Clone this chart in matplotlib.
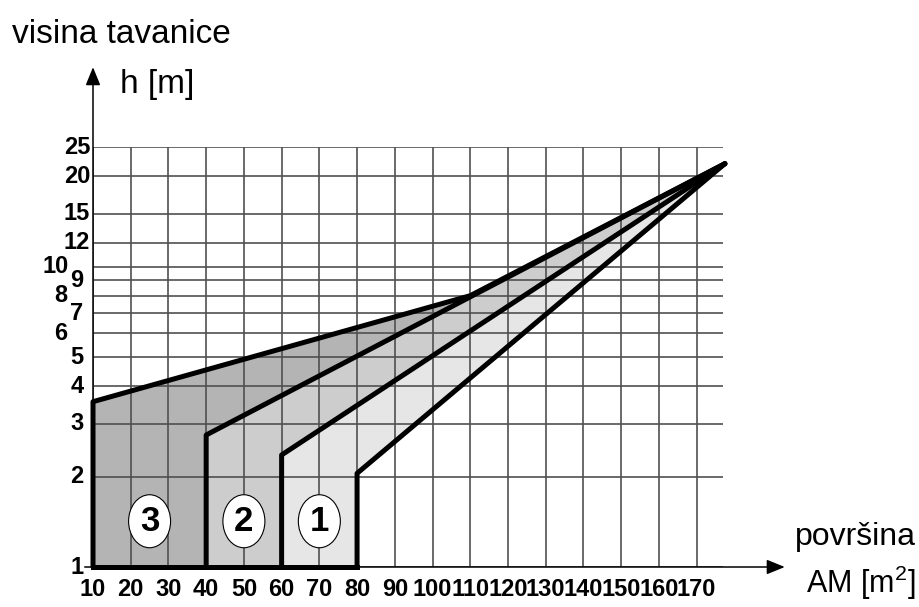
import matplotlib
matplotlib.use("Agg")
import matplotlib.pyplot as plt
from matplotlib.patches import Polygon, Ellipse
from matplotlib.transforms import ScaledTranslation, blended_transform_factory

# data
x_ticks = [10, 20, 30, 40, 50, 60, 70, 80, 90, 100, 110, 120, 130, 140, 150, 160, 170]
y_ticks = [1, 2, 3, 4, 5, 6, 7, 8, 9, 10, 12, 15, 20, 25]
zone_x = [10, 40, 60, 80]          # left edges of the zones
zone_h = [3.55, 2.75, 2.36, 2.05]  # height where the slanted line starts
knee = (110, 8.0)                  # where the top line joins zone 2 line
apex = (177.5, 22.0)
zone_names = ["3", "2", "1"]
zone_label_x = [25, 50, 70]
zone_label_y = 1.42
fills = ["#b4b4b4", "#cdcdcd", "#e6e6e6"]

plt.rcParams["font.family"] = ["Liberation Sans", "DejaVu Sans"]
plt.rcParams["mathtext.fontset"] = "custom"
plt.rcParams["mathtext.rm"] = "Liberation Sans"

fig = plt.figure(figsize=(9.2, 6.07), dpi=100)
ax = fig.add_axes([93 / 920, 1 - 567 / 607, 630 / 920, 420 / 607])
ax.set_yscale("log")
ax.set_xlim(10, 177)
ax.set_ylim(1, 25)
for s in ax.spines.values():
    s.set_visible(False)
ax.set_xticks([])
ax.set_yticks([])
ax.minorticks_off()

# grid
for xv in x_ticks:
    ax.plot([xv, xv], [1, 25], color="#505050", lw=1.2, zorder=2)
for yv in y_ticks:
    ax.plot([10, 177], [yv, yv], color="#505050", lw=1.2, zorder=2)

# zone fills
polys = [
    [(zone_x[0], 1), (zone_x[0], zone_h[0]), knee, (zone_x[1], zone_h[1]), (zone_x[1], 1)],
    [(zone_x[1], 1), (zone_x[1], zone_h[1]), apex, (zone_x[2], zone_h[2]), (zone_x[2], 1)],
    [(zone_x[2], 1), (zone_x[2], zone_h[2]), apex, (zone_x[3], zone_h[3]), (zone_x[3], 1)],
]
for p, c in zip(polys, fills):
    ax.add_patch(Polygon(p, closed=True, facecolor=c, edgecolor="none", zorder=1, clip_on=False))

# thick outlines
lw = 3.6
ax.plot([zone_x[0], zone_x[0], knee[0], apex[0]], [1, zone_h[0], knee[1], apex[1]],
        color="black", lw=lw, solid_joinstyle="round", solid_capstyle="round", zorder=4, clip_on=False)
for zx, zh in zip(zone_x[1:], zone_h[1:]):
    ax.plot([zx, zx, apex[0]], [1, zh, apex[1]], color="black", lw=lw,
            solid_joinstyle="round", solid_capstyle="round", zorder=4, clip_on=False)
ax.plot([zone_x[0], zone_x[3]], [1, 1], color="black", lw=lw, zorder=4, clip_on=False)

# zone labels in white ellipses
for name, xv in zip(zone_names, zone_label_x):
    tr = fig.dpi_scale_trans + ScaledTranslation(xv, zone_label_y, ax.transData)
    ax.add_patch(Ellipse((0, 0), 0.42, 0.53, transform=tr, facecolor="white",
                         edgecolor="black", lw=0.8, zorder=5))
    ax.text(xv, zone_label_y, name, ha="center", va="center", fontsize=25,
            fontweight="bold", zorder=6)

# axes arrows
ax.annotate("", xy=(0, 1.19), xytext=(0, 0), xycoords="axes fraction",
            arrowprops=dict(arrowstyle="-|>,head_length=1.1,head_width=0.45", color="black", lw=1.1,
                            shrinkA=0, shrinkB=0))
ax.annotate("", xy=(1.098, 0), xytext=(0, 0), xycoords="axes fraction",
            arrowprops=dict(arrowstyle="-|>,head_length=1.1,head_width=0.45", color="black", lw=1.1,
                            shrinkA=0, shrinkB=0))

# y tick labels
ytr = blended_transform_factory(ax.transAxes, ax.transData)
shift = {10: -26.6, 8: -23.0, 6: -23.0}
for yv in y_ticks:
    ax.annotate(str(yv), xy=(0, yv), xycoords=ytr, xytext=(shift.get(yv, -11.5), 0),
                textcoords="offset points", ha="center", va="center",
                fontsize=17, fontweight="bold")
ax.plot([-0.013, 0], [1, 1], color="black", lw=1.1, transform=ytr, clip_on=False)

# x tick labels
xtr = blended_transform_factory(ax.transData, ax.transAxes)
for xv in x_ticks:
    ax.annotate(str(xv), xy=(xv, 0), xycoords=xtr, xytext=(0, -16.3),
                textcoords="offset points", ha="center", va="center",
                fontsize=17, fontweight="bold")

# axis titles
fig.text(12 / 920, 1 - 43 / 607, "visina tavanice", fontsize=24, va="baseline", ha="left")
fig.text(120 / 920, 1 - 93 / 607, "h [m]", fontsize=24, va="baseline", ha="left")
fig.text(795 / 920, 1 - 545 / 607, "površina", fontsize=23, va="baseline", ha="left")
fig.text(806 / 920, 1 - 593 / 607, "AM [m$^2$]", fontsize=22, va="baseline", ha="left")

fig.savefig("out.png", dpi=100)
